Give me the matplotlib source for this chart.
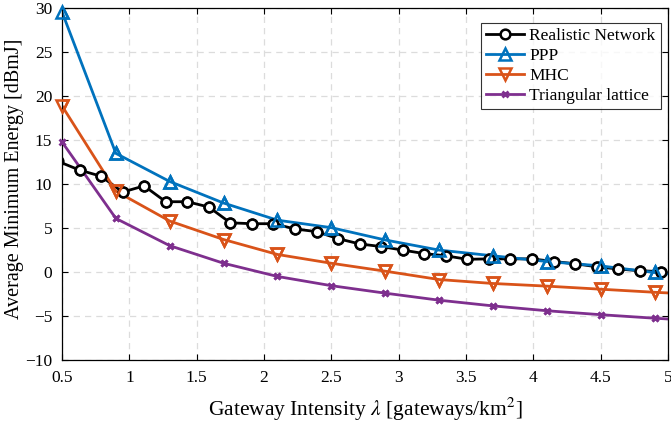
import matplotlib
matplotlib.use("Agg")
import matplotlib.pyplot as plt

# Realistic network (simulated), first point lies just left of the axis
x_real = [0.47, 0.63, 0.79, 0.95, 1.11, 1.27, 1.43, 1.59, 1.75, 1.91, 2.07, 2.23,
          2.39, 2.55, 2.71, 2.87, 3.03, 3.19, 3.35, 3.51, 3.67, 3.83, 3.99, 4.15,
          4.31, 4.47, 4.63, 4.79, 4.95]
y_real = [12.6, 11.6, 10.9, 9.1, 9.8, 8.0, 8.0, 7.4, 5.6, 5.5, 5.5, 4.9,
          4.6, 3.8, 3.2, 2.9, 2.5, 2.1, 1.85, 1.45, 1.5, 1.5, 1.5, 1.2,
          0.95, 0.6, 0.35, 0.15, 0.05]

# model curves (last point is beyond the x range)
x_model = [0.5, 0.9, 1.3, 1.7, 2.1, 2.5, 2.9, 3.3, 3.7, 4.1, 4.5, 4.9, 5.3]
y_ppp = [29.6, 13.5, 10.3, 7.85, 5.9, 5.05, 3.65, 2.5, 1.85, 1.2, 0.7, -0.05, -0.7]
y_mhc = [18.9, 9.2, 5.8, 3.7, 2.0, 1.0, 0.1, -0.85, -1.3, -1.6, -1.95, -2.3, -2.6]
y_tri = [14.8, 6.1, 3.0, 1.0, -0.5, -1.55, -2.4, -3.2, -3.85, -4.4, -4.85, -5.25, -5.6]

labels = ["Realistic Network", "PPP", "MHC", "Triangular lattice"]

plt.rcParams["font.family"] = ["Liberation Serif", "DejaVu Serif"]
plt.rcParams["mathtext.fontset"] = "stix"

fig = plt.figure(figsize=(6.71, 4.26), dpi=100)
ax = fig.add_axes([0.0924, 0.155, 0.9031, 0.8255])

styles = [
    dict(color="black", marker="o", ms=7, mfc="white", mew=1.8),
    dict(color="#0072BD", marker="^", ms=8.5, mfc="none", mew=1.8),
    dict(color="#D95319", marker="v", ms=8.5, mfc="none", mew=1.8),
    dict(color="#7E2F8E", marker="x", ms=4.5, mew=2),
]
series = [(x_real, y_real), (x_model, y_ppp), (x_model, y_mhc), (x_model, y_tri)]

for (xs, ys), st, lab in zip(series, styles, labels):
    ax.plot(xs, ys, lw=2, label=lab, **st)
    # markers are not clipped at the axes edge, like in MATLAB
    inside = [(x, y) for x, y in zip(xs, ys) if 0.5 <= x <= 5]
    ax.plot([p[0] for p in inside], [p[1] for p in inside], ls="none",
            clip_on=False, zorder=3, **st)

ax.set_xlim(0.5, 5)
ax.set_ylim(-10, 30)
ax.set_xticks([0.5, 1, 1.5, 2, 2.5, 3, 3.5, 4, 4.5, 5])
ax.set_xticklabels(["0.5", "1", "1.5", "2", "2.5", "3", "3.5", "4", "4.5", "5"])
ax.set_yticks(range(-10, 31, 5))
ax.tick_params(direction="in", top=True, right=True, length=4, labelsize=12.5,
               width=0.8)
ax.tick_params(axis="x", pad=7)
ax.tick_params(axis="y", pad=7)
ax.grid(True, ls=(0, (5, 4)), color="#dcdcdc", lw=0.9)
for s in ax.spines.values():
    s.set_linewidth(0.9)

ax.set_xlabel(r"Gateway Intensity $\lambda$ [gateways/km$^2$]", fontsize=15.5,
              labelpad=7)
ax.set_ylabel("Average Minimum Energy [dBmJ]", fontsize=14.5)
ax.yaxis.set_label_coords(-0.063, 0.515)

leg = ax.legend(loc="upper right", fontsize=12.5, frameon=True, fancybox=False,
                edgecolor="black", handlelength=2.2, borderpad=0.3,
                labelspacing=0.22, handletextpad=0.3,
                bbox_to_anchor=(1.002, 0.983))
leg.get_frame().set_linewidth(0.8)

fig.savefig("out.png", dpi=100)
